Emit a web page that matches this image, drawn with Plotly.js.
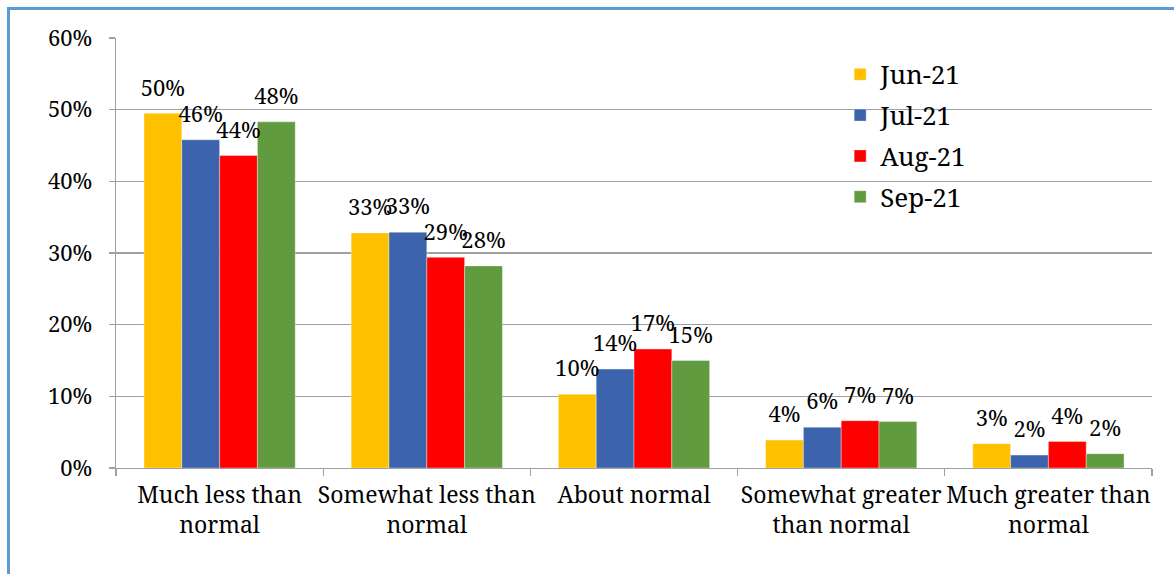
<!DOCTYPE html>
<html>
<head>
<meta charset="utf-8">
<script src="https://cdn.plot.ly/plotly-3.0.1.min.js"></script>
<style>
  html, body { margin: 0; padding: 0; background: #fff; overflow: hidden; }
  #wrap { position: relative; width: 1174px; height: 574px; }
  #chart { position: absolute; left: 0; top: 0; width: 1174px; height: 574px; }
  #frame { position: absolute; left: 7px; top: 7px; width: 1200px; height: 620px;
           border: 3px solid #5B9BD5; pointer-events: none; }
</style>
</head>
<body>
<div id="wrap">
  <div id="chart"></div>
  <div id="frame"></div>
</div>
<script>
// ---- data (percent) ----
const categories = [
  "Much less than<br>normal",
  "Somewhat less than<br>normal",
  "About normal",
  "Somewhat greater<br>than normal",
  "Much greater than<br>normal"
];
const seriesNames = ["Jun-21", "Jul-21", "Aug-21", "Sep-21"];
const jun21 = [49.5, 32.8, 10.3, 3.9, 3.4];
const jul21 = [45.8, 32.9, 13.8, 5.7, 1.8];
const aug21 = [43.6, 29.4, 16.6, 6.6, 3.7];
const sep21 = [48.3, 28.2, 15.0, 6.5, 2.0];
const yTickVals = [0, 10, 20, 30, 40, 50, 60];

const seriesValues = [jun21, jul21, aug21, sep21];
const colors = ["#FFC000", "#3B64AD", "#FF0000", "#629B3F"];
const serifFont = "Noto Serif";

const traces = [];
seriesValues.forEach((vals, i) => {
  traces.push({
    type: "bar",
    name: seriesNames[i],
    legendgroup: seriesNames[i],
    x: categories,
    y: vals,
    offsetgroup: "g" + i,
    marker: { color: colors[i], line: { color: "rgba(255,255,255,0.6)", width: 0.6 } },
    hoverinfo: "x+y+name"
  });
});
seriesValues.forEach((vals, i) => {
  traces.push({
    type: "scatter",
    mode: "markers+text",
    showlegend: false,
    x: categories,
    y: vals,
    offsetgroup: "g" + i,
    text: vals.map(v => Math.round(v) + "%"),
    textposition: "top center",
    textfont: { family: serifFont, size: 22, color: "#000" },
    marker: { size: 18, opacity: 0 },
    cliponaxis: false,
    hoverinfo: "skip"
  });
});

const layout = {
  width: 1174,
  height: 574,
  margin: { l: 116, r: 22, t: 38, b: 106 },
  paper_bgcolor: "rgba(0,0,0,0)",
  plot_bgcolor: "#fff",
  barmode: "group",
  bargap: 0.27,
  bargroupgap: 0,
  scattermode: "group",
  scattergap: 0.27,
  font: { family: serifFont, color: "#000" },
  showlegend: true,
  legend: {
    x: 0.699, xanchor: "left",
    y: 0.97, yanchor: "top",
    font: { family: serifFont, size: 26, color: "#000" },
    traceorder: "grouped",
    tracegroupgap: 4,
    bgcolor: "rgba(0,0,0,0)"
  },
  xaxis: {
    type: "category",
    tickson: "boundaries",
    ticks: "outside",
    ticklen: 7,
    tickcolor: "#a0a0a0",
    tickwidth: 1.3,
    tickangle: 0,
    showline: true,
    linecolor: "#a0a0a0",
    linewidth: 1.3,
    showgrid: false,
    tickfont: { family: serifFont, size: 23, color: "#000" },
    ticklabelstandoff: 6,
    fixedrange: true
  },
  yaxis: {
    range: [0, 60],
    tickvals: yTickVals,
    ticktext: yTickVals.map(v => v + "%"),
    ticks: "outside",
    ticklen: 6,
    tickcolor: "#a0a0a0",
    tickwidth: 1.3,
    showline: true,
    linecolor: "#a0a0a0",
    linewidth: 1.3,
    showgrid: true,
    gridcolor: "#a0a0a0",
    gridwidth: 1.3,
    zeroline: false,
    tickfont: { family: serifFont, size: 22, color: "#000" },
    ticklabelstandoff: 12,
    fixedrange: true
  }
};

Plotly.newPlot("chart", traces, layout, { displayModeBar: false, staticPlot: true });
</script>
</body>
</html>
